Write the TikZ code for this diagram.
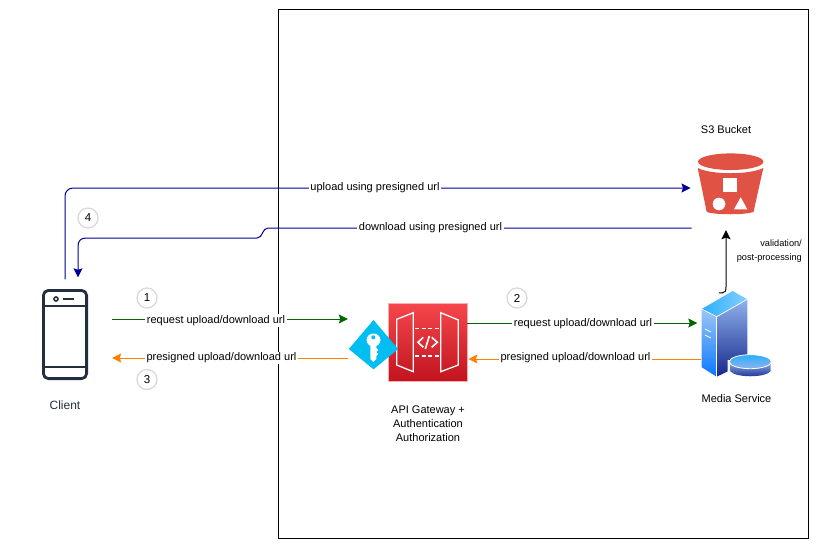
\documentclass[tikz,border=0pt]{standalone}
\usepackage{fontspec}
\setmainfont{Liberation Sans}
\usetikzlibrary{calc,arrows.meta,shapes.geometric}
\definecolor{linkblue}{HTML}{000099}
\definecolor{reqgreen}{HTML}{006600}
\definecolor{resporange}{HTML}{FF8000}
\definecolor{iconink}{HTML}{232F3E}
\definecolor{keyblue}{HTML}{00BEF2}
\definecolor{bucketred}{HTML}{E05243}
\definecolor{gatetop}{HTML}{F5474C}
\definecolor{gatebottom}{HTML}{C2141F}
\definecolor{sideup}{HTML}{9CC6F5}
\definecolor{sidedown}{HTML}{0A78FF}
\definecolor{frontup}{HTML}{8FB2EC}
\definecolor{frontdown}{HTML}{16288C}
\definecolor{capleft}{HTML}{2CAEFF}
\definecolor{capright}{HTML}{86CFFF}
\tikzset{
    lbl/.style={fill=white,inner xsep=1.5pt,inner ysep=1pt,font=\fontsize{11}{13}\selectfont},
    caption/.style={align=center,font=\fontsize{11}{14}\selectfont},
    small/.style={align=right,inner sep=0pt,font=\fontsize{9.2}{14}\selectfont},
    stepmark/.style={circle,draw=black!15,line width=1.3pt,minimum size=20pt,inner sep=0pt,font=\fontsize{11.5}{13}\selectfont},
    iconbox/.style={inner sep=0pt},
    conn/.style={line width=1pt,-{Stealth[length=9pt,width=9pt,inset=1.5pt]}},
    reqline/.style={conn,reqgreen},
    respline/.style={conn,resporange},
    linkline/.style={conn,linkblue},
}
\begin{document}
\begin{tikzpicture}[x=1pt,y=-1pt]
    \useasboundingbox (0,0) rectangle (817,547);
    \node[iconbox,minimum width=46pt,minimum height=91pt] (client) at (65,335) {};
    \node[iconbox,minimum width=79pt,minimum height=78pt,draw=gatetop!45,line width=0.8pt,top color=gatetop,bottom color=gatebottom] (gateway) at (427.5,342) {};
    \node[iconbox,minimum width=49pt,minimum height=1pt] (key) at (373.5,349) {};
    \node[iconbox,minimum width=65.6pt,minimum height=60pt] (bucket) at (730.5,183.5) {};
    \node[iconbox,minimum width=69pt,minimum height=86pt] (media) at (736,334) {};
    \draw[black,line width=0.9pt] (278,9) rectangle (808,538);
    % client
    \draw[iconink,line width=2.8pt,rounded corners=5pt] (43.4,290.4) rectangle (86.6,378.6);
    \draw[iconink,line width=2.6pt] (43,306) -- (87,306);
    \draw[iconink,line width=2.6pt] (43,367) -- (87,367);
    \draw[iconink,line width=1.6pt] (56,299) circle (2pt);
    \draw[iconink,line width=2.4pt] (63,299) -- (74,299);
    % gateway
    \draw[white,line width=1.3pt,line join=miter] (396.7,319.3) -- (413.3,312.7) -- (413.3,371.7) -- (396.7,365) -- cycle;
    \draw[white,line width=1.3pt,line join=miter] (440.7,312.7) -- (458.3,320) -- (458.3,365) -- (440.7,371.7) -- cycle;
    \draw[white,line width=1.5pt,dash pattern=on 4pt off 2.5pt] (415,328.3) -- (440,328.3);
    \draw[white,line width=1.5pt,dash pattern=on 4pt off 2.5pt] (415,356) -- (440,356);
    \draw[white,line width=1.6pt] (423.3,337.3) -- (418,342.3) -- (423.3,347.3);
    \draw[white,line width=1.6pt] (431.7,337.3) -- (437.3,342.3) -- (431.7,347.3);
    \draw[white,line width=1.6pt] (429.3,336) -- (425.3,349);
    % key
    \fill[keyblue] (373.5,320) -- (key.east) -- (373.5,369.3) -- (key.west) -- cycle;
    \fill[white] (373.5,340) ellipse (7pt and 6.5pt);
    \fill[keyblue] (373.3,337.3) circle (2pt);
    \fill[white] (370.3,344) -- (376.3,344) -- (376.3,348) -- (378.3,350) -- (376.3,352) -- (378.3,354) -- (376.3,356) -- (376.3,359) -- (373.5,362) -- (370.3,359) -- cycle;
    % bucket
    \fill[bucketred] (697.7,168) .. controls (712,175) and (749,175) .. (763.3,168) -- (753.5,212) .. controls (745,215) and (716,215) .. (706.7,212) -- cycle;
    \fill[bucketred] (730.7,161.7) ellipse (32.7pt and 8.3pt);
    \draw[white,line width=1.2pt] (696,165.5) .. controls (712,173.5) and (749,173.5) .. (765,165.5);
    \fill[white] (723.3,178.3) rectangle (737,192);
    \fill[white] (719,204) circle (6.3pt);
    \fill[white] (734,209.3) -- (747.3,209.3) -- (740.7,197.3) -- cycle;
    % media
    \shade[top color=frontup,bottom color=frontdown] (716.7,316.7) -- (747.3,299.3) -- (747.3,362) -- (716.7,376.7) -- cycle;
    \shade[top color=sideup,bottom color=sidedown] (701.7,309) -- (716.7,316.7) -- (716.7,376.7) -- (701.7,367.3) -- cycle;
    \shade[left color=capleft,right color=capright] (701.7,309) -- (732.7,291) -- (747.3,299.3) -- (716.7,316.7) -- cycle;
    \draw[white,line width=0.7pt] (701.7,309) -- (716.7,316.7) -- (747.3,299.3);
    \draw[white,line width=0.7pt] (716.7,316.7) -- (716.7,376.7);
    \draw[white,line width=0.8pt] (705,329) -- (711,332);
    \draw[white,line width=0.8pt] (705,335) -- (711,338);
    \fill[white] (727.5,360) rectangle (772,373) (750,373.5) ellipse (22.5pt and 5pt);
    \shade[top color=frontup,bottom color=frontdown] (730,361.7) -- (730,371) .. controls (735,378) and (766,378) .. (770.7,371) -- (770.7,361.7) -- cycle;
    \draw[white,line width=0.8pt,top color=capleft,bottom color=frontup] (750.3,361.7) ellipse (21pt and 7pt);
    % connectors
    \draw[linkline,shorten <=10pt,shorten >=7pt,rounded corners=8pt] (client.north) |- ([yshift=-4.5pt]bucket.west);
    \draw[linkline,shorten <=6pt,shorten >=12pt] ([yshift=-44.5pt]bucket.west) -- (268,228) .. controls (262,228) and (263,238) .. (257,238) -- (86,238) .. controls (81,238) and (78,241) .. (78,246) -- ([xshift=13pt]client.north);
    \draw[reqline,shorten <=24pt,shorten >=1pt] ([yshift=16pt]client.east) -- ([yshift=30pt]key.west);
    \draw[respline,shorten <=1pt,shorten >=24pt] ([yshift=-9pt]key.west) -- ([yshift=-23pt]client.east);
    \draw[reqline,shorten >=4pt] ([yshift=19pt]gateway.east) -- ([yshift=11pt]media.west);
    \draw[respline,shorten >=1pt] ([yshift=-25pt]media.west) -- ([yshift=-17pt]gateway.east);
    \draw[conn,black] ([xshift=-17pt,yshift=-2pt]media.north) -- (722,293) .. controls (725,293) and (726,291) .. (726,287) -- ([xshift=-4.5pt,yshift=-16.5pt]bucket.south);
    % labels
    \node[lbl] (lblupload) at (375,187.5) {upload using presigned url};
    \node[lbl] (lbldownload) at (430.5,228) {download using presigned url};
    \node[lbl] (lblreqleft) at (216,320.5) {request upload/download url};
    \node[lbl] (lblrespleft) at (221.5,358) {presigned upload/download url};
    \node[lbl] (lblreqright) at (583,323.5) {request upload/download url};
    \node[lbl] (lblrespright) at (575.5,358) {presigned upload/download url};
    \node[stepmark] (stepa) at (147,298) {1};
    \node[stepmark] (stepb) at (517,298) {2};
    \node[stepmark] (stepc) at (147,379.5) {3};
    \node[stepmark] (stepd) at (88,218) {4};
    \node[caption,text=iconink,font=\fontsize{12}{14}\selectfont] (captionclient) at (65,405) {Client};
    \node[caption] (captiongateway) at (428,423.5) {API Gateway +\\Authentication\\Authorization};
    \node[caption] (captionbucket) at (726,129.5) {S3 Bucket};
    \node[caption] (captionmedia) at (736.5,398.5) {Media Service};
    \node[small,anchor=east] (captionvalid) at (802,251) {validation/\\post-processing};
\end{tikzpicture}
\end{document}
